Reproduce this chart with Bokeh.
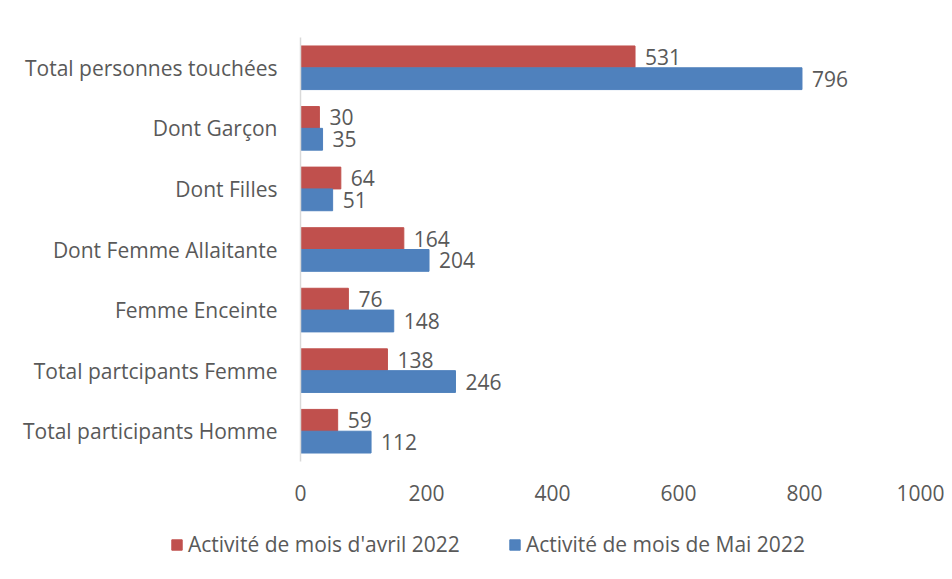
from bokeh.plotting import figure
from bokeh.layouts import column
from bokeh.models import ColumnDataSource, FactorRange, Range1d, FixedTicker, Legend, LegendItem
from bokeh.transform import dodge
from bokeh.core.properties import value
from bokeh.embed import file_html
from bokeh.resources import INLINE

categories = ["Total personnes touchées", "Dont Garçon", "Dont Filles",
              "Dont Femme Allaitante", "Femme Enceinte",
              "Total partcipants Femme", "Total participants Homme"]
avril = [531, 30, 64, 164, 76, 138, 59]
mai = [796, 35, 51, 204, 148, 246, 112]
series_names = ["Activité de mois d'avril 2022", "Activité de mois de Mai 2022"]
x_ticks = [0, 200, 400, 600, 800, 1000]

RED = "#C0504D"
BLUE = "#4F81BD"
FONT = "Open Sans"
FS = "21px"
TXT = "#595959"

src = ColumnDataSource(dict(cat=categories, avril=avril, mai=mai,
                            avril_lbl=[str(v) for v in avril],
                            mai_lbl=[str(v) for v in mai]))

W = 944
p = figure(width=W, height=515, output_backend="svg", toolbar_location=None,
           y_range=FactorRange(factors=categories[::-1]),
           x_range=Range1d(0, 1000),
           min_border_left=300, min_border_right=14,
           min_border_top=37, min_border_bottom=54)
p.outline_line_color = None
p.grid.grid_line_color = None

r1 = p.hbar(y=dodge("cat", 0.18, range=p.y_range), right="avril", left=0, height=0.36,
            color=RED, source=src)
r2 = p.hbar(y=dodge("cat", -0.18, range=p.y_range), right="mai", left=0, height=0.36,
            color=BLUE, source=src)

p.text(x="avril", y=dodge("cat", 0.18, range=p.y_range), text="avril_lbl", source=src,
       x_offset=10, text_baseline="middle", text_font=value(FONT),
       text_font_size=FS, text_color=TXT)
p.text(x="mai", y=dodge("cat", -0.18, range=p.y_range), text="mai_lbl", source=src,
       x_offset=10, text_baseline="middle", text_font=value(FONT),
       text_font_size=FS, text_color=TXT)

xa = p.xaxis[0]
xa.ticker = FixedTicker(ticks=x_ticks)
xa.axis_line_color = None
xa.major_tick_line_color = None
xa.minor_tick_line_color = None
xa.major_label_standoff = 17
xa.major_label_text_font = FONT
xa.major_label_text_font_size = FS
xa.major_label_text_color = TXT

ya = p.yaxis[0]
ya.axis_line_color = "#d9d9d9"
ya.axis_line_width = 1.5
ya.major_tick_line_color = None
ya.minor_tick_line_color = None
ya.major_label_standoff = 17
ya.major_label_text_font = FONT
ya.major_label_text_font_size = FS
ya.major_label_text_color = TXT

# legend strip (its own small plot, frame not aligned with the chart above)
lg = figure(width=W, height=48, output_backend="svg", toolbar_location=None,
            x_range=Range1d(0, 1), y_range=Range1d(0, 1),
            x_axis_type=None, y_axis_type=None,
            min_border_left=0, min_border_right=0, min_border_top=0, min_border_bottom=0)
lg.frame_align = False
lg.outline_line_color = None
lg.grid.grid_line_color = None
# swatch renderers: hidden, only their legend swatches are shown
d1 = lg.hbar(y="cat", right="avril", left=0, height=0.5, color=RED, source=src, visible=False)
d2 = lg.hbar(y="cat", right="mai", left=0, height=0.5, color=BLUE, source=src, visible=False)
legend = Legend(items=[LegendItem(label=series_names[0], renderers=[d1]),
                       LegendItem(label=series_names[1], renderers=[d2])],
                orientation="horizontal", location=(170, 5),
                glyph_width=13, glyph_height=13, spacing=48,
                label_text_font=FONT, label_text_font_size=FS,
                label_text_color=TXT, border_line_color=None,
                inactive_fill_alpha=0,
                background_fill_alpha=0, margin=0, padding=0, label_standoff=5)
lg.add_layout(legend, "center")

layout = column(p, lg, spacing=0)
open("out.html", "w").write(file_html(layout, INLINE))
